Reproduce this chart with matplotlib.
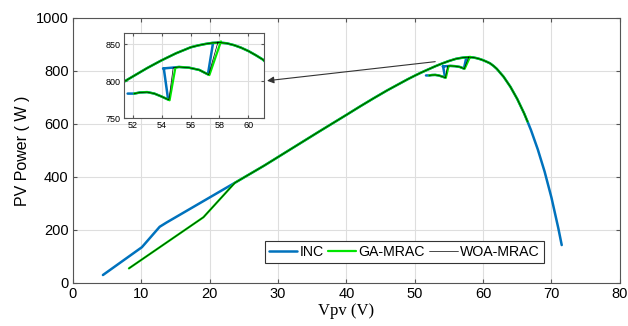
import numpy as np
import matplotlib.pyplot as plt

nan = np.nan

# démarrage des trajectoires (Vpv en V, puissance en W)
inc_start_v = [4.4, 10.1, 12.7, 13.7, 23.7]
inc_start_p = [30, 135, 212, 228, 378]
ga_start_v = [8.2, 19.1, 23.7]
ga_start_p = [55, 248, 378]

# courbe P-V parcourue
pv_v = [23.7, 28, 32, 36, 40, 42, 44, 46, 48, 49, 50, 51, 52, 53, 54, 55,
        55.5, 56, 56.5, 57, 57.5, 58, 58.5, 59, 59.5, 60, 60.5, 61, 61.5, 62,
        63, 64, 65, 66, 66.5, 67, 68, 69, 70, 71, 71.5]
pv_p = [378, 443, 507, 571, 634, 666, 697, 727, 755, 769, 782, 794.5, 806, 817.5, 828, 837.5,
        841.5, 845.5, 848, 850, 851.5, 852, 851, 848.5, 845, 840.5, 835, 829, 819.5, 808,
        778, 740, 694, 640, 609, 577, 504, 420, 322, 207, 143]
ga_end_v = 66.5  # GA / WOA s'arrêtent ici

# oscillations autour du MPP
inc_mpp_v = [51.65, 52.1, 52.5, 53.0, 53.5, 54.0, 54.45, 54.15, nan,
             54.1, 54.7, 55.2, 55.9, 56.6, 57.2, 57.55]
inc_mpp_p = [783, 783, 784.5, 785, 783, 779, 775, 817, nan,
             817, 818, 819, 818, 815, 809, 851]
ga_mpp_v = [52.1, 52.5, 53.0, 53.5, 54.0, 54.55, 54.95, 55.2, 55.9, 56.6, 57.3, 58.1]
ga_mpp_p = [783, 784.5, 785, 783, 779, 774, 818, 819, 818, 815, 808, 853.5]
woa_mpp_v = [52.1, 52.5, 53.0, 53.5, 54.0, 54.5, 54.8, 55.2, 55.9, 56.6, 57.25, 57.9]
woa_mpp_p = [783, 784.5, 785, 783, 779, 774.5, 818, 819, 818, 815, 808.5, 853]

INC_COLOR = '#0072BD'
GA_COLOR = '#00E600'
GRID_COLOR = '#DEDEDE'
FRAME_COLOR = '#555555'


def build_series(start_v, start_p, mpp_v, mpp_p, v_max):
    pv = np.array(pv_v)
    pp = np.array(pv_p)
    keep = pv <= v_max
    v = list(start_v) + list(pv[keep]) + [nan] + list(mpp_v)
    p = list(start_p) + list(pp[keep]) + [nan] + list(mpp_p)
    return np.array(v), np.array(p)


inc_v, inc_p = build_series(inc_start_v, inc_start_p, inc_mpp_v, inc_mpp_p, 100)
ga_v, ga_p = build_series(ga_start_v, ga_start_p, ga_mpp_v, ga_mpp_p, ga_end_v)
woa_v, woa_p = build_series(ga_start_v, ga_start_p, woa_mpp_v, woa_mpp_p, ga_end_v)


def draw(ax):
    kw = dict(solid_joinstyle='round', solid_capstyle='round')
    ax.plot(inc_v, inc_p, color=INC_COLOR, lw=1.8, label='INC', **kw)
    ax.plot(ga_v, ga_p, color=GA_COLOR, lw=1.6, label='GA-MRAC', **kw)
    ax.plot(woa_v, woa_p, color='black', lw=0.5, label='WOA-MRAC', **kw)


def style(ax, size):
    ax.grid(True, color=GRID_COLOR, lw=0.8)
    ax.set_axisbelow(True)
    for s in ax.spines.values():
        s.set_color(FRAME_COLOR)
        s.set_linewidth(0.8)
    ax.tick_params(direction='in', top=True, right=True, length=3,
                   color=FRAME_COLOR, labelsize=size, pad=3)


plt.rcParams['font.family'] = ['Liberation Sans', 'DejaVu Sans']

fig = plt.figure(figsize=(6.28, 3.26), dpi=100)
ax = fig.add_axes([0.116, 0.132, 0.871, 0.813])
draw(ax)
style(ax, 10.5)
ax.set_xlim(0, 80)
ax.set_ylim(0, 1000)
ax.set_xticks(np.arange(0, 81, 10))
ax.set_yticks(np.arange(0, 1001, 200))
ax.set_xlabel('Vpv (V)', family='Liberation Serif', fontsize=12, labelpad=1)
ax.set_ylabel('PV Power ( W )', fontsize=11.5, labelpad=4)

leg = ax.legend(loc='lower left', bbox_to_anchor=(0.351, 0.075),
                ncol=3, fontsize=10.2, frameon=True, fancybox=False,
                handlelength=2.0, handletextpad=0.15, columnspacing=0.3,
                borderpad=0.3, borderaxespad=0)
leg.get_frame().set_edgecolor('#333333')
leg.get_frame().set_linewidth(0.8)
leg.get_frame().set_alpha(1)

# zoom MPP
axin = fig.add_axes([0.197, 0.638, 0.223, 0.261])
draw(axin)
style(axin, 6.5)
axin.set_xlim(51.38, 61.06)
axin.set_ylim(750, 865)
axin.set_xticks(np.arange(52, 61, 2))
axin.set_yticks([750, 800, 850])
axin.tick_params(length=2, pad=2)

ax.annotate('', xy=(28.4, 763), xytext=(53.0, 835),
            arrowprops=dict(arrowstyle='-|>', color='#333333', lw=0.8,
                            mutation_scale=10, shrinkA=0, shrinkB=0))

fig.savefig('out.png', dpi=100)
